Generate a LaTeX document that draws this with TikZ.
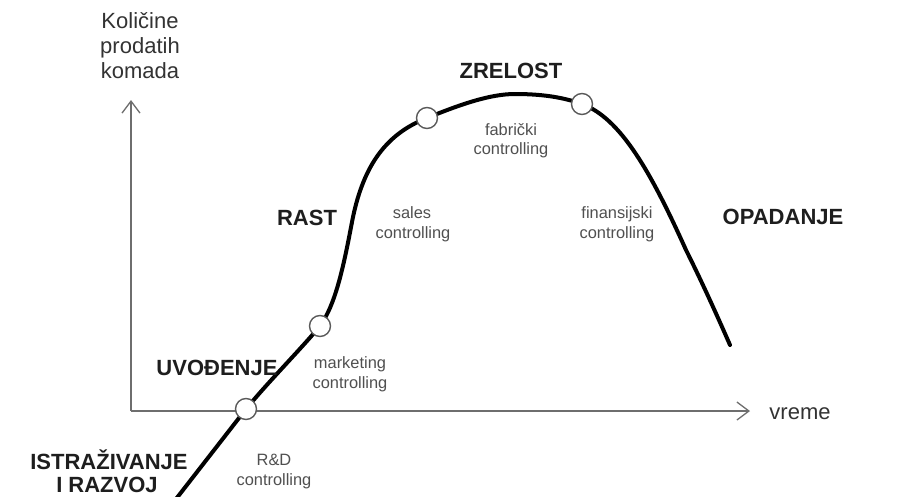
\documentclass[tikz,border=0pt]{standalone}
\usepackage{fontspec}
\setmainfont{Liberation Sans}
\usetikzlibrary{arrows.meta}
\definecolor{axisgray}{HTML}{6E6E6E}
\definecolor{circgray}{HTML}{5A5A5A}
\definecolor{phasetext}{HTML}{1E1E1E}
\definecolor{ctrltext}{HTML}{505050}
\definecolor{labeltext}{HTML}{333333}
\begin{document}
\begin{tikzpicture}[x=1pt,y=-1pt,
  axis/.style={draw=axisgray, line width=1.3pt, -{Straight Barb[length=12pt,width=18pt]}},
  phase/.style={font=\fontsize{22}{26}\selectfont\bfseries, text=phasetext, anchor=base, inner sep=0pt},
  ctrl/.style={font=\fontsize{16.4}{19}\selectfont, text=ctrltext, anchor=base, inner sep=0pt},
  axislabel/.style={font=\fontsize{22}{25}\selectfont, text=labeltext, anchor=base, inner sep=0pt},
  milestone/.style={circle, draw=circgray, fill=white, line width=1.4pt, minimum size=21pt, inner sep=0pt},
  lifecurve/.style={line width=4pt, black, line cap=round}
]
% canvas
\fill[white] (0,0) rectangle (922,496);
\useasboundingbox (0,0) rectangle (922,496);
\clip (0,0) rectangle (922,496);

% axes
\coordinate (origin) at (131,411);
\coordinate (ytip) at (131,100);
\coordinate (xtip) at (750,411);
\draw[axis] (origin) -- (ytip);
\draw[axis] (origin) -- (xtip);

% phase transition points
\coordinate (p0) at (176,499);
\coordinate (p1) at (246,409);
\coordinate (p2) at (320,326);
\coordinate (p3) at (427,118);
\coordinate (p4) at (582,104);
\coordinate (pend) at (730,345);

% product life cycle curve
\draw[lifecurve] (p0) .. controls (204,463) and (225,436) .. (p1)
  .. controls (270,380) and (300,350) .. (p2)
  .. controls (336,304) and (344,264) .. (352,222)
  .. controls (362,170) and (383,135) .. (p3)
  .. controls (460,104.5) and (490,94) .. (515,94)
  .. controls (545,94) and (565,98) .. (p4)
  .. controls (620,118) and (650,170) .. (686,250)
  .. controls (701,280) and (716,313) .. (pend);

\node[milestone] (m1) at (p1) {};
\node[milestone] (m2) at (p2) {};
\node[milestone] (m3) at (p3) {};
\node[milestone] (m4) at (p4) {};

% axis labels
\node[axislabel] (yl1) at (140,28) {Količine};
\node[axislabel] (yl2) at (140,53) {prodatih};
\node[axislabel] (yl3) at (140,78) {komada};
\node[axislabel] (xl) at (800,419) {vreme};

% phases
\node[phase] (zrelost) at (511,78) {ZRELOST};
\node[phase] (rast) at (307,225) {RAST};
\node[phase] (opadanje) at (783,224) {OPADANJE};
\node[phase] (uvodjenje) at (217,375) {UVOĐENJE};
\node[phase] (istr) at (109,469) {ISTRAŽIVANJE};
\node[phase] (razvoj) at (107,492) {I RAZVOJ};

% controlling types
\node[ctrl] (fab1) at (511,135) {fabrički};
\node[ctrl] (fab2) at (511,154) {controlling};
\node[ctrl] (sal1) at (412,218) {sales};
\node[ctrl] (sal2) at (413,238) {controlling};
\node[ctrl] (fin1) at (617,218) {finansijski};
\node[ctrl] (fin2) at (617,238) {controlling};
\node[ctrl] (mkt1) at (350,368) {marketing};
\node[ctrl] (mkt2) at (350,388) {controlling};
\node[ctrl] (rd1) at (274,465) {R\&D};
\node[ctrl] (rd2) at (274,485) {controlling};
\end{tikzpicture}
\end{document}
